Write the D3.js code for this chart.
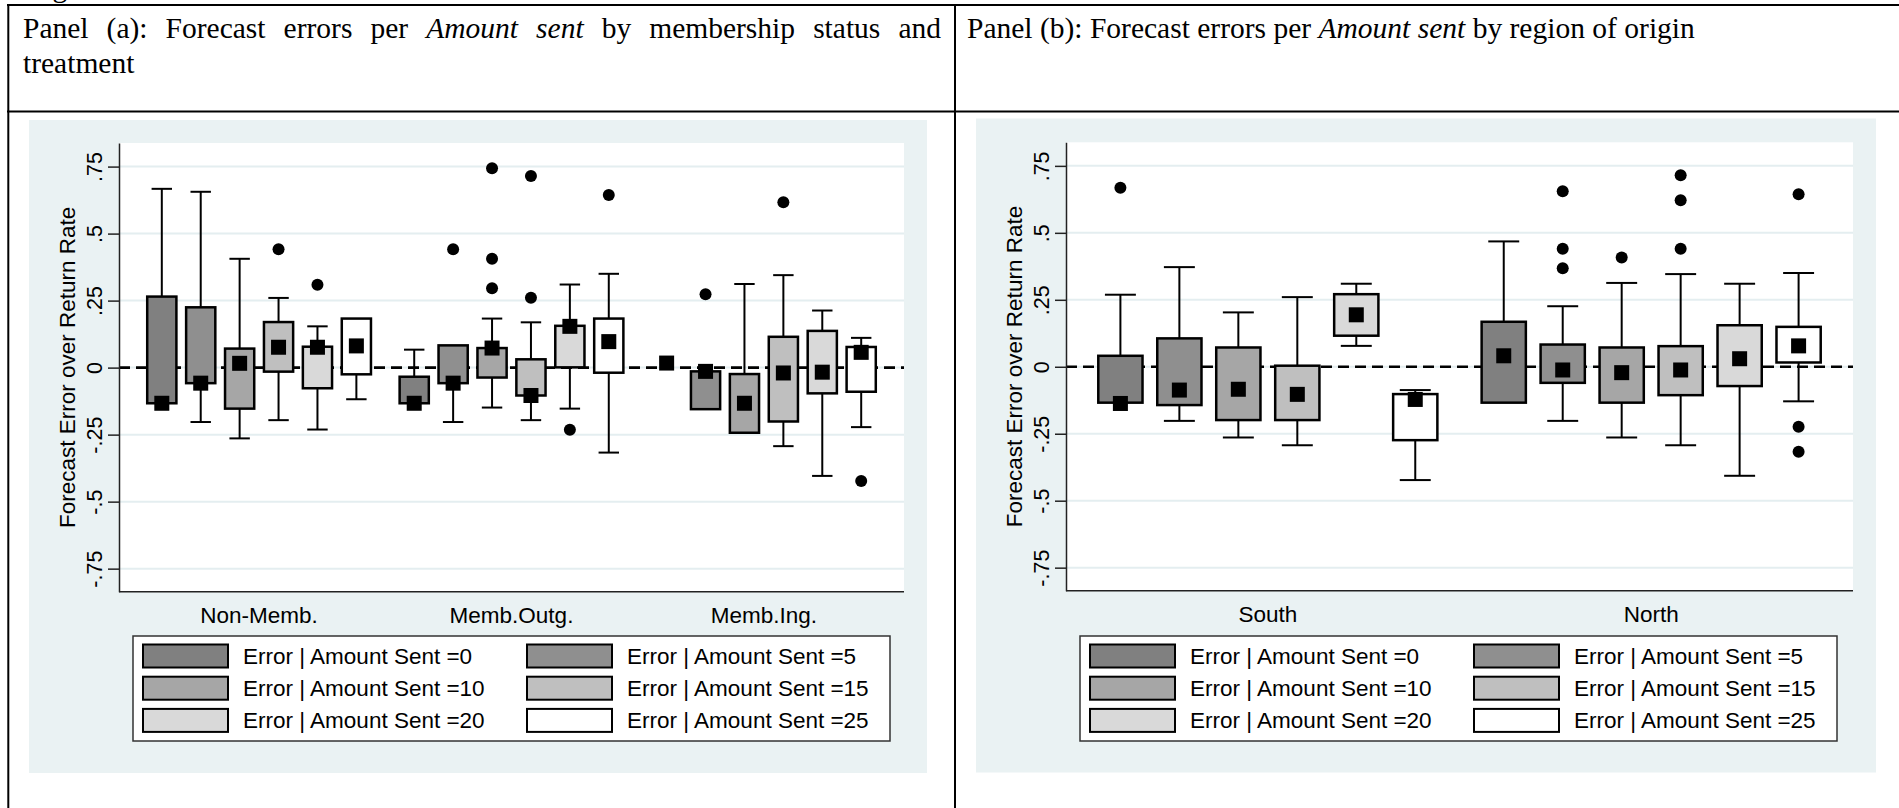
<!DOCTYPE html>
<html>
<head>
<meta charset="utf-8">
<script src="https://cdn.jsdelivr.net/npm/d3@7"></script>
<style>
  html, body { margin: 0; padding: 0; background: #fff; }
  svg text { font-family: "Liberation Sans", Arial, sans-serif; }
  .serif { font-family: "Liberation Serif", "Times New Roman", serif; }
</style>
</head>
<body>
<svg id="fig" width="1899" height="808"></svg>
<script>
// amounts sent (one box per amount inside every group)
const amounts = [0, 5, 10, 15, 20, 25];
const legendLabels = amounts.map(a => `Error | Amount Sent =${a}`);
const boxFills = ['#808080', '#8f8f8f', '#a6a6a6', '#bfbfbf', '#d9d9d9', '#ffffff'];

const membGroups = ['Non-Memb.', 'Memb.Outg.', 'Memb.Ing.'];
const regionGroups = ['South', 'North'];

const yTicks = [-0.75, -0.5, -0.25, 0, 0.25, 0.5, 0.75];
const yTickLabels = ['-.75', '-.5', '-.25', '0', '.25', '.5', '.75'];

// box stats per amount: [lower whisker, q1, median, q3, upper whisker]
const nonMembStats = [
  [-0.133, -0.133, -0.133, 0.265, 0.667],
  [-0.203, -0.058, -0.058, 0.225, 0.656],
  [-0.264, -0.153, 0.016, 0.071, 0.406],
  [-0.196, -0.015, 0.076, 0.170, 0.260],
  [-0.231, -0.077, 0.076, 0.078, 0.154],
  [-0.118, -0.025, 0.081, 0.183, 0.183]
];
const nonMembOutliers = [[], [], [], [0.442], [0.309], []];

const membOutgStats = [
  [-0.133, -0.133, -0.133, -0.034, 0.067],
  [-0.203, -0.058, -0.058, 0.083, 0.083],
  [-0.149, -0.037, 0.073, 0.073, 0.183],
  [-0.196, -0.104, -0.104, 0.031, 0.169],
  [-0.153, 0.001, 0.154, 0.156, 0.310],
  [-0.317, -0.019, 0.097, 0.183, 0.350]
];
const membOutgOutliers = [[], [0.442], [0.744, 0.406, 0.296], [0.715, 0.261], [-0.232], [0.644]];

const membIngStats = [
  [0.017, 0.017, 0.017, 0.017, 0.017],
  [-0.155, -0.155, -0.014, -0.014, -0.014],
  [-0.243, -0.243, -0.133, -0.024, 0.312],
  [-0.293, -0.201, -0.020, 0.115, 0.345],
  [-0.404, -0.096, -0.017, 0.137, 0.213],
  [-0.222, -0.090, 0.057, 0.077, 0.111]
];
const membIngOutliers = [[], [0.274], [], [0.617], [], [-0.423]];

const southStats = [
  [-0.134, -0.134, -0.137, 0.041, 0.269],
  [-0.202, -0.143, -0.087, 0.106, 0.372],
  [-0.264, -0.199, -0.084, 0.072, 0.203],
  [-0.293, -0.199, -0.103, 0.004, 0.260],
  [0.078, 0.116, 0.194, 0.271, 0.310],
  [-0.423, -0.274, -0.122, -0.102, -0.087]
];
const southOutliers = [[0.668], [], [], [], [], []];

const northStats = [
  [-0.134, -0.134, 0.041, 0.168, 0.468],
  [-0.202, -0.060, -0.012, 0.083, 0.226],
  [-0.264, -0.134, -0.022, 0.072, 0.313],
  [-0.293, -0.106, -0.012, 0.077, 0.346],
  [-0.407, -0.072, 0.030, 0.155, 0.310],
  [-0.129, 0.016, 0.078, 0.149, 0.350]
];
const northOutliers = [[], [0.655, 0.441, 0.368], [0.408], [0.715, 0.622, 0.441], [], [0.644, -0.224, -0.317]];

const svg = d3.select('#fig');

// ---- table frame and headers ----
// the figure caption sits above the page edge in the source, only its descender shows
svg.append('text').attr('class', 'serif')
  .attr('x', 28).attr('y', -3)
  .style('font-size', '29.5px')
  .text('Figure');

const frame = svg.append('g').attr('stroke', '#000').attr('stroke-width', 2);
frame.append('line').attr('x1', 7).attr('x2', 1899).attr('y1', 5).attr('y2', 5);
frame.append('line').attr('x1', 7).attr('x2', 1899).attr('y1', 111.5).attr('y2', 111.5);
frame.append('line').attr('x1', 8.3).attr('x2', 8.3).attr('y1', 4).attr('y2', 808);
frame.append('line').attr('x1', 955).attr('x2', 955).attr('y1', 4).attr('y2', 808);

// header line written word by word, spread to the given width when justify is set
function headerLine(words, x0, y, width, justify) {
  const g = svg.append('g');
  const nodes = words.map(w => g.append('text')
    .attr('class', 'serif')
    .attr('y', y)
    .style('font-size', '29.5px')
    .style('font-style', w.italic ? 'italic' : 'normal')
    .text(w.t));
  const widths = nodes.map(n => n.node().getComputedTextLength());
  const total = d3.sum(widths);
  const space = justify ? (width - total) / (words.length - 1) : 7.4;
  let x = x0;
  nodes.forEach((n, i) => { n.attr('x', x); x += widths[i] + space; });
}

const words = s => s.split(' ').map(t => ({ t }));
headerLine([...words('Panel (a): Forecast errors per'), { t: 'Amount', italic: true }, { t: 'sent', italic: true },
  ...words('by membership status and')], 23, 38, 918, true);
headerLine(words('treatment'), 23, 73, 0, false);
headerLine([...words('Panel (b): Forecast errors per'), { t: 'Amount', italic: true }, { t: 'sent', italic: true },
  ...words('by region of origin')], 967, 38, 0, false);

// ---- one Stata-like box plot panel ----
function boxPanel(cfg) {
  const g = svg.append('g');

  g.append('rect')
    .attr('x', cfg.bg[0]).attr('y', cfg.bg[1])
    .attr('width', cfg.bg[2]).attr('height', cfg.bg[3])
    .attr('fill', '#eaf2f3');

  g.append('rect')
    .attr('x', cfg.left).attr('y', cfg.top)
    .attr('width', cfg.right - cfg.left).attr('height', cfg.bottom - cfg.top)
    .attr('fill', '#fff');

  const y = d3.scaleLinear().domain([-0.836, 0.838]).range([cfg.bottom, cfg.top]);

  const x0 = d3.scaleBand()
    .domain(cfg.groups)
    .range([cfg.left, cfg.right])
    .paddingInner(cfg.padInner)
    .paddingOuter(cfg.padOuter);

  const x1 = d3.scaleBand()
    .domain(amounts)
    .range([0, x0.bandwidth()])
    .paddingInner(0.25)
    .paddingOuter(0.125);

  const bw = x1.bandwidth();

  // grid lines
  g.append('g').selectAll('line')
    .data(yTicks)
    .enter()
    .append('line')
    .attr('x1', cfg.left).attr('x2', cfg.right)
    .attr('y1', d => y(d)).attr('y2', d => y(d))
    .attr('stroke', '#e4eef0')
    .attr('stroke-width', 2);

  // dashed zero line
  g.append('line')
    .attr('x1', cfg.left).attr('x2', cfg.right)
    .attr('y1', y(0)).attr('y2', y(0))
    .attr('stroke', '#000')
    .attr('stroke-width', 2.7)
    .attr('stroke-dasharray', '11,6');

  // y axis
  const yAxis = g.append('g')
    .attr('transform', `translate(${cfg.left},0)`)
    .call(d3.axisLeft(y)
      .tickValues(yTicks)
      .tickFormat((d, i) => yTickLabels[i])
      .tickSize(11)
      .tickSizeOuter(0));
  yAxis.select('.domain').attr('stroke', '#222').attr('stroke-width', 1.5);
  yAxis.selectAll('.tick line').attr('stroke', '#222').attr('stroke-width', 1.5);
  yAxis.selectAll('.tick text')
    .attr('transform', 'rotate(-90)')
    .attr('x', 0)
    .attr('y', -17.3)
    .attr('dy', 0)
    .attr('text-anchor', 'middle')
    .attr('fill', '#000')
    .style('font-size', '21.5px')
    .style('font-family', '"Liberation Sans", Arial, sans-serif');

  // x axis line
  g.append('line')
    .attr('x1', cfg.left).attr('x2', cfg.right)
    .attr('y1', cfg.bottom).attr('y2', cfg.bottom)
    .attr('stroke', '#222').attr('stroke-width', 1.5);

  // y title
  g.append('text')
    .attr('transform', `translate(${cfg.left - 44},${(cfg.top + cfg.bottom) / 2}) rotate(-90)`)
    .attr('text-anchor', 'middle')
    .style('font-size', '22.5px')
    .text('Forecast Error over Return Rate');

  // category labels
  g.append('g').selectAll('text')
    .data(cfg.groups)
    .enter()
    .append('text')
    .attr('x', d => x0(d) + x0.bandwidth() / 2)
    .attr('y', cfg.bottom + 31)
    .attr('text-anchor', 'middle')
    .style('font-size', '22.5px')
    .text(d => d);

  // boxes
  cfg.groups.forEach((grp, gi) => {
    const stats = cfg.stats[gi];
    const outs = cfg.outliers[gi];
    const cell = g.append('g')
      .selectAll('g')
      .data(amounts)
      .enter()
      .append('g')
      .attr('transform', d => `translate(${x0(grp) + x1(d)},0)`);

    const st = (d, i) => stats[i];

    // whiskers
    cell.append('line')
      .attr('x1', bw / 2).attr('x2', bw / 2)
      .attr('y1', (d, i) => y(st(d, i)[3])).attr('y2', (d, i) => y(st(d, i)[4]))
      .attr('stroke', '#000').attr('stroke-width', 2);
    cell.append('line')
      .attr('x1', bw / 2).attr('x2', bw / 2)
      .attr('y1', (d, i) => y(st(d, i)[1])).attr('y2', (d, i) => y(st(d, i)[0]))
      .attr('stroke', '#000').attr('stroke-width', 2);
    cell.filter((d, i) => stats[i][4] > stats[i][3])
      .append('line')
      .attr('x1', bw * 0.15).attr('x2', bw * 0.85)
      .attr('y1', d => y(stats[amounts.indexOf(d)][4]))
      .attr('y2', d => y(stats[amounts.indexOf(d)][4]))
      .attr('stroke', '#000').attr('stroke-width', 2);
    cell.filter((d, i) => stats[i][0] < stats[i][1])
      .append('line')
      .attr('x1', bw * 0.15).attr('x2', bw * 0.85)
      .attr('y1', d => y(stats[amounts.indexOf(d)][0]))
      .attr('y2', d => y(stats[amounts.indexOf(d)][0]))
      .attr('stroke', '#000').attr('stroke-width', 2);

    // box
    cell.append('rect')
      .attr('x', 0)
      .attr('y', (d, i) => y(st(d, i)[3]))
      .attr('width', bw)
      .attr('height', (d, i) => y(st(d, i)[1]) - y(st(d, i)[3]))
      .attr('fill', (d, i) => boxFills[i])
      .attr('stroke', '#000')
      .attr('stroke-width', 2.5);

    // median marker
    cell.append('rect')
      .attr('x', bw / 2 - 7.5)
      .attr('y', (d, i) => y(st(d, i)[2]) - 7.5)
      .attr('width', 15).attr('height', 15)
      .attr('fill', '#000');

    // outside values
    cell.selectAll('circle')
      .data((d, i) => outs[i])
      .enter()
      .append('circle')
      .attr('cx', bw / 2)
      .attr('cy', d => y(d))
      .attr('r', 6)
      .attr('fill', '#000');
  });

  // legend
  const lg = g.append('g').attr('transform', `translate(${cfg.legend[0]},${cfg.legend[1]})`);
  lg.append('rect')
    .attr('width', 757).attr('height', 105)
    .attr('fill', '#fff')
    .attr('stroke', '#333')
    .attr('stroke-width', 1.5);

  const item = lg.selectAll('g.legend-item')
    .data(amounts)
    .enter()
    .append('g')
    .attr('class', 'legend-item')
    .attr('transform', (d, i) => `translate(${10 + (i % 2) * 384},${20 + Math.floor(i / 2) * 32.2})`);

  item.append('rect')
    .attr('y', -11.5)
    .attr('width', 85).attr('height', 23)
    .attr('fill', (d, i) => boxFills[i])
    .attr('stroke', '#000')
    .attr('stroke-width', 2);

  item.append('text')
    .attr('x', 100)
    .attr('y', 8)
    .style('font-size', '22.5px')
    .text((d, i) => legendLabels[i]);
}

boxPanel({
  groups: membGroups,
  stats: [nonMembStats, membOutgStats, membIngStats],
  outliers: [nonMembOutliers, membOutgOutliers, membIngOutliers],
  bg: [29, 120, 898, 653],
  left: 119, right: 904, top: 143, bottom: 591.7,
  padInner: 0.075, padOuter: 0.0925,
  legend: [133, 636]
});

boxPanel({
  groups: regionGroups,
  stats: [southStats, northStats],
  outliers: [southOutliers, northOutliers],
  bg: [976, 118.5, 900, 654],
  left: 1066, right: 1853, top: 142.3, bottom: 590.7,
  padInner: 0.077, padOuter: 0.065,
  legend: [1080, 636]
});
</script>
</body>
</html>
